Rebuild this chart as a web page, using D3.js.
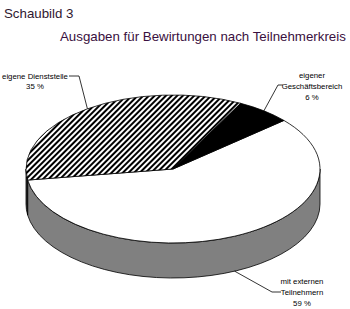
<!DOCTYPE html>
<html>
<head>
<meta charset="utf-8">
<script src="https://cdn.jsdelivr.net/npm/d3@7"></script>
<style>
body { margin: 0; background: #fff; }
text { font-family: "Liberation Sans", Arial, sans-serif; }
</style>
</head>
<body>
<div id="chart"></div>
<script>
// data
var categories = ["mit externen Teilnehmern", "eigene Dienststelle", "eigener Geschäftsbereich"];
var values = [59, 35, 6];
var labelLines = [["mit externen", "Teilnehmern", "59 %"], ["eigene Dienststelle", "35 %"], ["eigener", "Geschäftsbereich", "6 %"]];

var width = 350, height = 309;
var cx = 173, cy = 169, rx = 147, ry = 74, depth = 35;

var svg = d3.select("#chart").append("svg")
    .attr("width", width)
    .attr("height", height);

var defs = svg.append("defs");
var hatch = defs.append("pattern")
    .attr("id", "hatch")
    .attr("patternUnits", "userSpaceOnUse")
    .attr("width", 4).attr("height", 4)
    .attr("patternTransform", "rotate(45)");
hatch.append("rect").attr("width", 4).attr("height", 4).attr("fill", "#fff");
hatch.append("rect").attr("width", 2).attr("height", 4).attr("fill", "#000");

var topFill = ["#fff", "url(#hatch)", "#000"];
var sideFill = ["#808080", "#303030", "#000"];

// pie angles (clockwise from 12 o'clock) -> ellipse param angle
var pie = d3.pie().sort(null).startAngle(49 * Math.PI / 180).endAngle((49 + 360) * Math.PI / 180);
var arcs = pie(values);

function param(a) { return a - Math.PI / 2; }
function px(t) { return cx + rx * Math.cos(t); }
function py(t, dy) { return cy + ry * Math.sin(t) + (dy || 0); }

function topPath(d) {
  var t0 = param(d.startAngle), t1 = param(d.endAngle);
  var large = (t1 - t0) > Math.PI ? 1 : 0;
  return "M" + cx + "," + cy +
    "L" + px(t0) + "," + py(t0) +
    "A" + rx + "," + ry + " 0 " + large + " 1 " + px(t1) + "," + py(t1) + "Z";
}

function sidePath(d) {
  // visible front part: param angles between 0 and PI (mod 2PI)
  var t0 = param(d.startAngle), t1 = param(d.endAngle);
  var parts = [];
  [0, 2 * Math.PI].forEach(function(off) {
    var a = Math.max(t0, off), b = Math.min(t1, off + Math.PI);
    if (b > a) parts.push([a, b]);
  });
  return parts.map(function(p) {
    var a = p[0], b = p[1];
    return "M" + px(a) + "," + py(a) +
      "A" + rx + "," + ry + " 0 0 1 " + px(b) + "," + py(b) +
      "L" + px(b) + "," + py(b, depth) +
      "A" + rx + "," + ry + " 0 0 0 " + px(a) + "," + py(a, depth) + "Z";
  }).join("");
}

// sides
svg.append("g").selectAll("path")
  .data(arcs)
  .join("path")
    .attr("d", sidePath)
    .attr("fill", function(d, i) { return sideFill[i]; })
    .attr("stroke", "#000")
    .attr("stroke-width", 0.8);

// tops
svg.append("g").selectAll("path")
  .data(arcs)
  .join("path")
    .attr("d", topPath)
    .attr("fill", function(d, i) { return topFill[i]; })
    .attr("stroke", "#000")
    .attr("stroke-width", 0.8);

// labels and leader lines
var labelPos = [
  {elbow: [272, 292], end: [281, 292], tx: 302, ty: 284, anchor: "middle"},
  {elbow: [79, 76], end: [69, 76], tx: 35, ty: 78.5, anchor: "middle"},
  {elbow: [278, 85], end: [283, 85], tx: 312, ty: 78, anchor: "middle"}
];
var lineH = 10.8;

arcs.forEach(function(d, i) {
  var t = param((d.startAngle + d.endAngle) / 2);
  var sx = px(t), sy = py(t, Math.sin(t) > 0 ? depth : 0);
  var L = labelPos[i];
  svg.append("path")
    .attr("d", "M" + sx + "," + sy + "L" + L.elbow[0] + "," + L.elbow[1] + "L" + L.end[0] + "," + L.end[1])
    .attr("fill", "none")
    .attr("stroke", "#000")
    .attr("stroke-width", 0.8);
  var txt = svg.append("text")
    .attr("text-anchor", L.anchor)
    .attr("font-size", 7.8)
    .attr("fill", "#000");
  labelLines[i].forEach(function(s, k) {
    txt.append("tspan").attr("x", L.tx).attr("y", L.ty + k * lineH).text(s);
  });
});

// titles
svg.append("text")
  .attr("x", 4).attr("y", 18)
  .attr("font-size", 13.3)
  .attr("fill", "#301830")
  .text("Schaubild 3");
svg.append("text")
  .attr("x", 60).attr("y", 41)
  .attr("font-size", 13.3)
  .attr("fill", "#3a1040")
  .text("Ausgaben für Bewirtungen nach Teilnehmerkreis");
</script>
</body>
</html>
